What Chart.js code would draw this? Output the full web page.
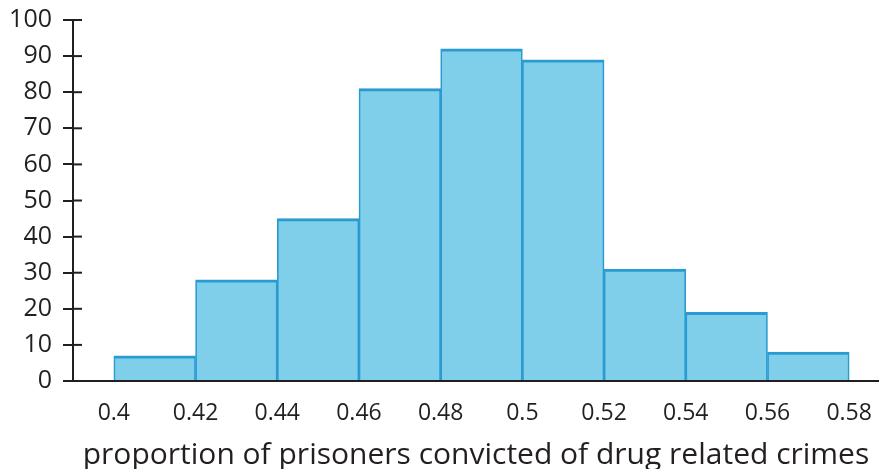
<!DOCTYPE html>
<html>
<head>
<meta charset="utf-8">
<script src="https://cdn.jsdelivr.net/npm/chart.js@4"></script>
<style>
  html, body { margin: 0; padding: 0; background: #fff; }
  #wrap { width: 879px; height: 469px; position: relative; }
</style>
</head>
<body>
<div id="wrap"><canvas id="chart"></canvas></div>
<script>
// histogram bins (centres), counts and axis ticks
const binCenters = [0.41, 0.43, 0.45, 0.47, 0.49, 0.51, 0.53, 0.55, 0.57];
const counts = [7, 28, 45, 81, 92, 89, 31, 19, 8];
const xTicks = [0.4, 0.42, 0.44, 0.46, 0.48, 0.5, 0.52, 0.54, 0.56, 0.58];
const yTicks = [0, 10, 20, 30, 40, 50, 60, 70, 80, 90, 100];
const xTitle = "proportion of prisoners convicted of drug related crimes";

const ink = "#231f20";

// y tick marks cross the axis, so draw the inner half too
const innerTicks = {
  id: "innerTicks",
  afterDatasetsDraw(chart) {
    const y = chart.scales.y;
    const ctx = chart.ctx;
    ctx.save();
    ctx.strokeStyle = ink;
    ctx.lineWidth = 2;
    y.ticks.forEach(t => {
      const py = y.getPixelForValue(t.value);
      ctx.beginPath();
      ctx.moveTo(y.right, py);
      ctx.lineTo(y.right + 9, py);
      ctx.stroke();
    });
    ctx.restore();
  }
};

new Chart(document.getElementById("chart").getContext("2d"), {
  type: "bar",
  data: {
    datasets: [{
      data: binCenters.map((x, i) => ({ x: x, y: counts[i] })),
      backgroundColor: "#7fcfeb",
      borderColor: "#2a9bd0",
      borderWidth: { top: 3, left: 1.7, right: 1.7, bottom: 0 },
      borderSkipped: "bottom",
      barPercentage: 1,
      categoryPercentage: 1
    }]
  },
  options: {
    responsive: true,
    maintainAspectRatio: false,
    animation: false,
    layout: { padding: { top: 20, right: 0, left: 0, bottom: 0 } },
    plugins: { legend: { display: false }, tooltip: { enabled: false } },
    scales: {
      x: {
        type: "linear",
        offset: false,
        min: 0.39,
        max: 0.5873,
        afterBuildTicks: s => { s.ticks = xTicks.map(v => ({ value: v })); },
        afterFit: s => { s.height = 88; s.paddingLeft = 0; s.paddingRight = 0; },
        grid: { display: false, drawTicks: false },
        border: { display: true, color: ink, width: 2 },
        ticks: {
          color: ink,
          padding: 19,
          maxRotation: 0,
          autoSkip: false,
          font: { family: "'Open Sans'", size: 23 },
          callback: v => String(v)
        },
        title: {
          display: true,
          text: xTitle,
          color: ink,
          padding: { top: 0, bottom: 0 },
          font: { family: "'Open Sans'", size: 30, lineHeight: 0.9 }
        }
      },
      y: {
        min: 0,
        max: 100,
        afterBuildTicks: s => { s.ticks = yTicks.map(v => ({ value: v })); },
        afterFit: s => { s.width = 73; s.paddingTop = 0; s.paddingBottom = 0; },
        grid: { drawOnChartArea: false, drawTicks: true, tickLength: 10, color: ink, lineWidth: 2 },
        border: { display: true, color: ink, width: 2 },
        ticks: {
          color: ink,
          padding: 11,
          font: { family: "'Open Sans'", size: 25 }
        }
      }
    }
  },
  plugins: [innerTicks]
});
</script>
</body>
</html>
